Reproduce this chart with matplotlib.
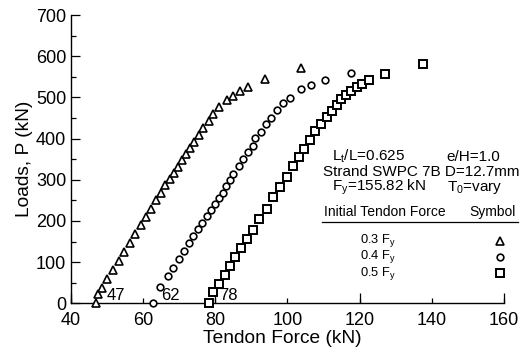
import numpy as np
import matplotlib
matplotlib.use("Agg")
import matplotlib.pyplot as plt
from matplotlib.ticker import MultipleLocator, FixedLocator

plt.rcParams['font.family'] = ['Liberation Sans', 'DejaVu Sans']
plt.rcParams['mathtext.fontset'] = 'custom'
plt.rcParams['mathtext.rm'] = 'Liberation Sans'
plt.rcParams['mathtext.default'] = 'regular'

# T0 = 0.3 Fy
tri_x = [47.0, 47.5, 48.6, 50.1, 51.6, 53.2, 54.7, 56.4, 57.8, 59.3, 60.8, 62.1,
         63.6, 64.9, 66.1, 67.4, 68.5, 69.7, 70.8, 71.9, 73.0, 74.1, 75.4, 76.7,
         78.2, 79.4, 81.1, 83.2, 85.0, 86.8, 89.1, 93.9, 103.7]
tri_y = [0, 23, 37, 59, 81, 103, 125, 146, 168, 190, 209, 229,
         251, 268, 287, 303, 317, 332, 347, 362, 378, 392, 409, 425,
         443, 459, 477, 494, 504, 515, 524, 544, 571]

# T0 = 0.4 Fy
circ_x = [62.6, 64.8, 66.8, 68.4, 69.8, 71.2, 72.6, 73.9, 75.2, 76.3, 77.6, 78.7,
          79.8, 80.9, 82.0, 83.0, 84.1, 85.0, 86.5, 87.8, 89.1, 90.4, 91.1, 92.6,
          94.0, 95.5, 97.2, 98.8, 100.7, 103.7, 106.6, 110.5, 117.5]
circ_y = [0, 39, 66, 86, 107, 126, 146, 164, 180, 195, 211, 226,
          242, 256, 269, 285, 299, 313, 333, 350, 367, 383, 401, 417,
          435, 451, 469, 486, 499, 520, 531, 542, 560]

# T0 = 0.5 Fy
sq_x = [78.3, 79.3, 80.9, 82.6, 84.1, 85.5, 87.2, 88.9, 90.4, 92.2, 94.2, 96.1,
        97.9, 99.8, 101.4, 103.1, 104.6, 106.2, 107.7, 109.4, 110.9, 112.3, 113.6,
        114.9, 116.2, 117.7, 119.2, 120.6, 122.7, 127.1, 137.5]
sq_y = [0, 27, 48, 69, 91, 113, 134, 157, 178, 204, 230, 257,
        283, 307, 333, 356, 375, 396, 418, 435, 453, 468, 482,
        495, 506, 516, 524, 532, 542, 557, 581]

start_labels = ["47", "62", "78"]
start_x = [47, 62, 78]

fig = plt.figure(figsize=(5.29, 3.53), dpi=100)
ax = fig.add_axes([0.1342, 0.1408, 0.8185, 0.8167])

mk = dict(ls='none', mfc='white', mec='black', clip_on=False, zorder=3)
syms = [('^', 5.6, 1.2), ('o', 4.8, 1.2), ('s', 5.6, 1.4)]
for (xs, ys), (m, ms, mw) in zip([(tri_x, tri_y), (circ_x, circ_y), (sq_x, sq_y)], syms):
    ax.plot(xs, ys, marker=m, ms=ms, mew=mw, **mk)

for lab, x0 in zip(start_labels, start_x):
    ax.text(x0 + 3.0, 19, lab, fontsize=12, ha='left', va='center')

ax.set_xlim(40, 160)
ax.set_ylim(0, 700)
for s in ['top', 'right']:
    ax.spines[s].set_visible(False)
for s in ['left', 'bottom']:
    ax.spines[s].set_linewidth(1.0)

ax.xaxis.set_major_locator(MultipleLocator(20))
ax.xaxis.set_minor_locator(FixedLocator([40, 80, 120, 160]))
ax.xaxis.remove_overlapping_locs = False
ax.yaxis.set_major_locator(MultipleLocator(100))
ax.yaxis.set_minor_locator(MultipleLocator(50))
ax.tick_params(axis='x', which='major', direction='in', length=3.6, width=0.9,
               labelsize=13, pad=6)
ax.tick_params(axis='x', which='minor', direction='in', length=7.5, width=0.9)
ax.tick_params(axis='y', which='major', direction='in', length=6.5, width=0.9,
               labelsize=13, pad=3.5)
ax.tick_params(axis='y', which='minor', direction='in', length=3.6, width=0.9)

ax.set_xlabel("Tendon Force (kN)", fontsize=13.8, labelpad=0)
ax.xaxis.set_label_coords(0.488, -0.093)
ax.set_ylabel("Loads, P (kN)", fontsize=13.8, labelpad=2)

# test conditions
tf = ax.transAxes
def fx(px):
    return (px - 71) / 433.0
def fy(py):
    return (303.3 - py) / 288.3

ax.text(fx(331.7), fy(156.7), r"L$_{t}$/L=0.625", fontsize=11, ha='left', va='center', transform=tf)
ax.text(fx(446.7), fy(156.7), "e/H=1.0", fontsize=11, ha='left', va='center', transform=tf)
ax.text(fx(322.7), fy(172.3), "Strand SWPC 7B D=12.7mm", fontsize=11, ha='left', va='center', transform=tf)
ax.text(fx(331.7), fy(187.3), r"F$_{y}$=155.82 kN", fontsize=11, ha='left', va='center', transform=tf)
ax.text(fx(446.7), fy(187.3), r"T$_{0}$=vary", fontsize=11, ha='left', va='center', transform=tf)

# symbol table
ax.text(fx(324.3), fy(212), "Initial Tendon Force", fontsize=10, ha='left', va='center', transform=tf)
ax.text(fx(469), fy(212), "Symbol", fontsize=10, ha='left', va='center', transform=tf)
ax.plot([fx(321.7), fx(518.3)], [fy(222.3), fy(222.3)], color='black', lw=0.9,
        transform=tf, clip_on=False)
rows = [r"0.3 F$_{y}$", r"0.4 F$_{y}$", r"0.5 F$_{y}$"]
row_y = [241, 256.7, 273.3]
for r, yy, (m, ms, mw) in zip(rows, row_y, syms):
    ax.text(fx(360), fy(yy), r, fontsize=9.3, ha='left', va='center', transform=tf)
    ax.plot([fx(500)], [fy(yy)], marker=m, ms=ms, mew=mw, transform=tf, **mk)

fig.savefig("out.png", dpi=100)
